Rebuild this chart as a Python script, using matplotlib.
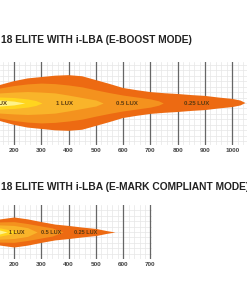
import numpy as np
import matplotlib
matplotlib.use("Agg")
import matplotlib.pyplot as plt

# ---- data (distance in m, beam half-width in lateral units) ----
boost_title = "18 ELITE WITH i-LBA (E-BOOST MODE)"
emark_title = "18 ELITE WITH i-LBA (E-MARK COMPLIANT MODE)"

boost_ticks = [200, 300, 400, 500, 600, 700, 800, 900, 1000]
emark_ticks = [200, 300, 400, 500, 600, 700]

# E-boost zones, outer to inner
boost_x_025 = [140, 149, 200, 250, 300, 350, 400, 450, 500, 550, 600, 650, 700, 750, 800, 850, 900, 950, 1000, 1030, 1048]
boost_w_025 = [64, 66, 80, 90, 95, 100, 102, 98, 84, 70, 55, 47, 40, 36, 33, 29, 26, 20, 15, 9, 0]
boost_x_05 = [140, 149, 200, 250, 300, 350, 400, 450, 500, 550, 600, 650, 700, 730, 747]
boost_w_05 = [53, 55, 64, 70, 73, 71, 66, 59, 48, 38, 29, 22, 15, 8, 0]
boost_x_1 = [140, 149, 200, 250, 300, 350, 400, 450, 500, 527]
boost_w_1 = [36, 37, 40, 42, 40, 37, 29, 20, 11, 0]
boost_x_2 = [140, 149, 200, 250, 280, 303]
boost_w_2 = [22, 22, 20, 15, 9, 0]
boost_x_4 = [140, 149, 200, 240]
boost_w_4 = [11, 11, 7, 0]

# E-mark zones, outer to inner
emark_x_025 = [140, 149, 200, 250, 300, 350, 400, 450, 500, 540, 570]
emark_w_025 = [47, 48, 55, 48, 38, 29, 24, 18, 13, 5, 0]
emark_x_05 = [140, 149, 200, 250, 300, 340, 380]
emark_w_05 = [36, 37, 38, 31, 22, 15, 0]
emark_x_1 = [140, 149, 200, 250, 285]
emark_w_1 = [26, 26, 24, 16, 0]
emark_x_2 = [140, 149, 190, 215]
emark_w_2 = [15, 15, 7, 0]
emark_x_4 = [140, 149, 175]
emark_w_4 = [7, 7, 0]

boost_labels = ["2 LUX", "1 LUX", "0.5 LUX", "0.25 LUX"]
boost_label_x = [143, 387, 614, 870]
emark_labels = ["1 LUX", "0.5 LUX", "0.25 LUX"]
emark_label_x = [212, 336, 464]

zone_colors = ["#ED6A12", "#F4921E", "#F9B42A", "#FFD51F", "#FFF38A"]

FONT = ["Liberation Sans", "DejaVu Sans"]

W, H = 247, 300
fig = plt.figure(figsize=(W / 100, H / 100), dpi=100)
fig.patch.set_facecolor("white")

px_per_m = 27.3 / 100.0
x_left = 149


def make_axes(x_right_px, top_px, bottom_px, center_px, ticks):
    ax = fig.add_axes([0, 1 - bottom_px / H, x_right_px / W, (bottom_px - top_px) / H])
    ax.set_xlim(x_left, x_left + x_right_px / px_per_m)
    ax.set_ylim(-(bottom_px - center_px) / px_per_m, (center_px - top_px) / px_per_m)
    for s in ax.spines.values():
        s.set_visible(False)
    x0, x1 = ax.get_xlim()
    y0, y1 = ax.get_ylim()
    for xv in np.arange(0, 1200, 20):
        if x0 <= xv <= x1 and xv % 100 != 0:
            ax.axvline(xv, color="#e6e6e6", lw=0.5, zorder=0)
    for yv in np.arange(-200, 201, 20):
        if y0 <= yv <= y1:
            ax.axhline(yv, color="#e6e6e6", lw=0.5, zorder=0)
    for xv in ticks:
        ax.axvline(xv, color="#666666", lw=0.9, zorder=0.5)
    ax.set_xticks(ticks)
    ax.set_xticklabels([str(t) for t in ticks], family=FONT, fontsize=4.6,
                       fontweight="bold", color="#444444")
    ax.tick_params(axis="x", length=0, pad=2.5)
    ax.set_yticks([])
    return ax


def draw_zones(ax, zones):
    for i, (xs, ws) in enumerate(zones):
        xs = np.array(xs, dtype=float)
        ws = np.array(ws, dtype=float)
        ax.fill_between(xs, -ws, ws, color=zone_colors[i], lw=0, zorder=1 + i)


ax1 = make_axes(247, 62, 145, 103, boost_ticks)
draw_zones(ax1, [(boost_x_025, boost_w_025), (boost_x_05, boost_w_05),
                 (boost_x_1, boost_w_1), (boost_x_2, boost_w_2), (boost_x_4, boost_w_4)])
for lab, lx in zip(boost_labels, boost_label_x):
    ax1.text(lx, 0, lab, ha="center", va="center", family=FONT, fontsize=4.3,
             fontweight="bold", color="#5a3a10", zorder=10, clip_on=True)

ax2 = make_axes(152, 205, 259, 232, emark_ticks)
draw_zones(ax2, [(emark_x_025, emark_w_025), (emark_x_05, emark_w_05),
                 (emark_x_1, emark_w_1), (emark_x_2, emark_w_2), (emark_x_4, emark_w_4)])
for lab, lx in zip(emark_labels, emark_label_x):
    ax2.text(lx, 0, lab, ha="center", va="center", family=FONT, fontsize=4.0,
             fontweight="bold", color="#5a3a10", zorder=10, clip_on=True)

# titles: size chosen so the first title spans about 192 px
t1 = fig.text(0.004, 1 - 40 / H, boost_title, ha="left", va="center", family=FONT,
              fontsize=10, fontweight="bold", color="#222222")
fig.canvas.draw()
w = t1.get_window_extent().width
size = 10 * 191 / w
t1.set_fontsize(size)
fig.text(0.004, 1 - 187 / H, emark_title, ha="left", va="center", family=FONT,
         fontsize=size, fontweight="bold", color="#222222")

fig.savefig("out.png", dpi=100)
